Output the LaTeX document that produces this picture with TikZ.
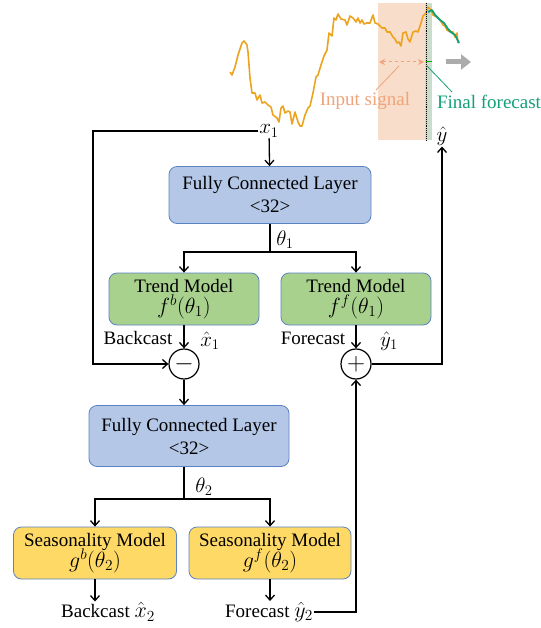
\RequirePackage{fix-cm}
\documentclass[tikz,border=0pt]{standalone}
\usepackage{amsmath,amssymb}
\usepackage{fontspec}
\setmainfont{Liberation Serif}
\usepackage{tikz}
\usetikzlibrary{arrows.meta}

\definecolor{fcblue}{HTML}{B4C7E7}
\definecolor{trendgreen}{HTML}{A9D18E}
\definecolor{seasyellow}{HTML}{FFD966}
\definecolor{boxline}{HTML}{5B83C4}
\definecolor{sigorange}{HTML}{EDA31E}
\definecolor{inshade}{HTML}{F8DDCB}
\definecolor{intext}{HTML}{EFA47A}
\definecolor{outstrip}{HTML}{CCDCCA}
\definecolor{fcgreen}{HTML}{13A078}

\newcommand{\boxmath}[1]{{\fontsize{22}{24}\selectfont$#1$}}

\tikzset{
  block/.style={draw=boxline, line width=0.8pt, rounded corners=8pt, align=center,
    font=\fontsize{19}{23}\selectfont, inner sep=0pt},
  fcbox/.style={block, fill=fcblue, minimum width=202pt, minimum height=57pt},
  trendbox/.style={block, fill=trendgreen, minimum width=150pt, minimum height=52pt},
  seasbox/.style={block, fill=seasyellow, minimum width=163pt, minimum height=52pt},
  opnode/.style={draw, circle, line width=1.2pt, minimum size=30pt, inner sep=0pt,
    font=\fontsize{25}{25}\selectfont},
  lbl/.style={font=\fontsize{19}{22}\selectfont, inner sep=1pt},
  mlbl/.style={font=\fontsize{21}{22}\selectfont, inner sep=1pt},
  arr/.style={line width=1.3pt, -{Straight Barb[length=5pt,width=9pt]}},
  ln/.style={line width=1.3pt}
}

\begin{document}
\begin{tikzpicture}[x=1pt,y=-1pt]
\useasboundingbox (0,0) rectangle (540,628);

% input window and forecast strip
\fill[inshade] (378,3) rectangle (425,140);
\fill[outstrip] (425,3) rectangle (432,140);
\draw[sigorange, line width=1.6pt, line join=round] plot coordinates {
  (230,72)(232,75)(235,67)(238,55)(242,43)(244,41)(247,45)(248,52)(250,78)(252,93)
  (255,93)(257,100)(260,95)(262,103)(265,102)(268,105)(271,107)(273,115)(277,118)(279,122)
  (281,108)(283,106)(285,113)(288,111)(290,112)(292,124)(295,112)(298,122)(300,126)(302,126)
  (305,115)(308,108)(310,106)(313,93)(316,77)(318,75)(321,65)(324,56)(327,50)(329,33)
  (332,36)(334,18)(336,20)(338,14)(341,19)(345,20)(347,25)(350,16)(353,18)(356,22)
  (358,18)(360,23)(362,20)(364,24)(367,23)(370,23)(373,15)(375,23)(378,24)(382,28)
  (385,28)(387,32)(390,32)(393,37)(395,39)(397,43)(399,42)(401,46)(403,33)(406,32)
  (408,39)(410,42)(413,32)(416,31)(418,32)(421,23)(423,16)(426,13)(428,7)(431,10)
  (433,15)(437,17)(440,20)(443,25)(445,26)(447,30)(450,32)(453,32)(455,37)(457,33)(458,43)};
\draw[fcgreen, line width=1.8pt, line join=round] plot coordinates {
  (428,12)(432,10)(435,15)(440,20)(444,23)(448,29)(452,33)(455,35)(457,39)(459,43)};
\draw[densely dotted, line width=0.9pt] (426,3) -- (426,140);
\draw[intext, dashed, line width=1pt, {Stealth[length=6pt,width=6pt]}-{Stealth[length=6pt,width=6pt]}] (379,62) -- (424,62);
\draw[green!70!black, line width=1pt] (426,62) -- (432,62);
\draw[intext, line width=0.8pt] (399,66) -- (376,90);
\draw[fcgreen, line width=0.8pt] (427,66) -- (452,92);
\draw[gray!65, line width=5pt, -{Triangle[length=10pt,width=15pt]}] (446,62) -- (471,62);
\node[lbl, text=intext] (insig) at (365,101) {Input signal};
\node[lbl, text=fcgreen] (finfc) at (489,102) {Final forecast};

% first block: trend
\node[mlbl] (x1) at (269,131) {$x_1$};
\node[mlbl] (yhat) at (442,136) {$\hat{y}$};
\node[fcbox] (fc1) at (270,195) {Fully Connected Layer\\\textless32\textgreater};
\node[mlbl] (th1) at (285,240) {$\theta_1$};
\node[trendbox] (tb) at (184,299) {Trend Model\\[-2pt]\boxmath{f^{b}(\theta_1)}};
\node[trendbox] (tf) at (356,299) {Trend Model\\[-2pt]\boxmath{f^{f}(\theta_1)}};
\node[opnode] (minus) at (184,364) {$-$};
\node[opnode] (plus) at (356,364) {$+$};
\node[lbl] (bc1) at (138,338) {Backcast};
\node[mlbl] (xh1) at (210,341) {$\hat{x}_1$};
\node[lbl] (fc1lbl) at (313,338) {Forecast};
\node[mlbl] (yh1) at (389,341) {$\hat{y}_1$};

\draw[arr] (x1) -- (fc1);
\draw[ln] (fc1.south) -- (270,252) coordinate (sp1);
\draw[arr] (sp1) -| (tb.north);
\draw[arr] (sp1) -| (tf.north);
\draw[arr] (tb) -- (minus);
\draw[arr] (tf) -- (plus);
\draw[arr] (x1.west) -- (93,131) |- (minus.west);
\draw[arr] (plus.east) -| (yhat.south);

% second block: seasonality
\node[fcbox, minimum width=200pt, minimum height=61pt] (fc2) at (189,436) {Fully Connected Layer\\\textless32\textgreater};
\node[mlbl] (th2) at (204,487) {$\theta_2$};
\node[seasbox] (sb) at (95,553) {Seasonality Model\\[-2pt]\boxmath{g^{b}(\theta_2)}};
\node[seasbox, minimum width=162pt] (sf) at (270,553) {Seasonality Model\\[-2pt]\boxmath{g^{f}(\theta_2)}};
\node[lbl] (bx2) at (108,612) {Backcast \boxmath{\hat{x}_2}};
\node[lbl] (fy2) at (269,612) {Forecast \boxmath{\hat{y}_2}};

\draw[arr] (minus.south) -- (minus.south |- fc2.north);
\draw[ln] (fc2.south -| minus) -- (184,499) coordinate (sp2);
\draw[arr] (sp2) -| (sb.north);
\draw[arr] (sp2) -| (sf.north);
\draw[arr] (sb.south) -- (sb.south |- bx2.north);
\draw[arr] (sf.south) -- (sf.south |- fy2.north);
\draw[arr] (fy2.east) -| (plus.south);
\end{tikzpicture}
\end{document}
